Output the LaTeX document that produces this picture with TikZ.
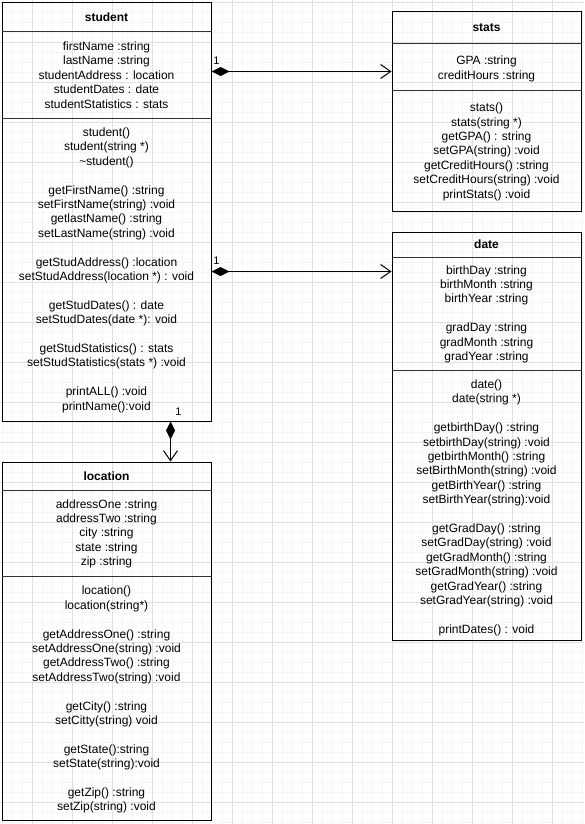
\documentclass[tikz,border=0pt]{standalone}
\usepackage{fontspec}
\setmainfont{Liberation Sans}
\usetikzlibrary{arrows.meta}
\tikzset{
  minorgrid/.style={draw=black!4, line width=0.6pt},
  majorgrid/.style={draw=black!12, line width=0.8pt},
  cls/.style={draw=black, line width=1pt, rectangle, inner sep=0pt},
  sep/.style={draw=black!80, line width=0.8pt},
  ttl/.style={font=\fontsize{12}{14.4}\selectfont\bfseries, inner sep=0pt},
  body/.style={font=\fontsize{12}{14.4}\selectfont, align=center, inner sep=0pt},
  mult/.style={font=\fontsize{11}{13}\selectfont, inner sep=0pt},
  comp/.style={draw=black, line width=1pt, {Diamond[length=18pt,width=9pt]}-{Straight Barb[length=10pt,width=14pt]}}
}
\begin{document}
\begin{tikzpicture}[x=1pt,y=-1pt]
\fill[white] (0,0) rectangle (584,824);
\useasboundingbox (0,0) rectangle (584,824);
% grid
\foreach \x in {2,12,...,582} \draw[minorgrid] (\x,0) -- (\x,824);
\foreach \y in {2,12,...,822} \draw[minorgrid] (0,\y) -- (584,\y);
\foreach \x in {32,72,...,552} \draw[majorgrid] (\x,0) -- (\x,824);
\foreach \y in {2,42,...,802} \draw[majorgrid] (0,\y) -- (584,\y);

% ---------- student ----------
\node[cls, minimum width=209pt, minimum height=418pt] (student) at (106.5,212) {};
\draw[sep] (2,31) -- (211,31);
\draw[sep] (2,118) -- (211,118);
\node[ttl] (studentT) at (106.5,17) {student};
\node[body] (studentA) at (106.5,76.5) {\strut firstName :string\\lastName :string\\studentAddress : location\\studentDates : date\\studentStatistics : stats\strut};
\node[body] (studentM) at (106.5,270.5) {\strut student()\\student(string *)\\\textasciitilde student()\\[14.4pt]getFirstName() :string\\setFirstName(string) :void\\getlastName() :string\\setLastName(string) :void\\[14.4pt]getStudAddress() :location\\setStudAddress(location *) : void\\[14.4pt]getStudDates() : date\\setStudDates(date *): void\\[14.4pt]getStudStatistics() : stats\\setStudStatistics(stats *) :void\\[14.4pt]printALL() :void\\printName():void\strut};

% ---------- stats ----------
\node[cls, minimum width=189pt, minimum height=199pt] (stats) at (486.5,111.5) {};
\draw[sep] (392,43) -- (581,43);
\draw[sep] (392,90) -- (581,90);
\node[ttl] (statsT) at (486.5,27.5) {stats};
\node[body] (statsA) at (486.5,69) {\strut GPA :string\\creditHours :string\strut};
\node[body] (statsM) at (486.5,152) {\strut stats()\\stats(string *)\\getGPA() : string\\setGPA(string) :void\\getCreditHours() :string\\setCreditHours(string) :void\\printStats() :void\strut};

% ---------- date ----------
\node[cls, minimum width=189pt, minimum height=408pt] (date) at (486.5,436) {};
\draw[sep] (392,257) -- (581,257);
\draw[sep] (392,370) -- (581,370);
\node[ttl] (dateT) at (486.5,244.5) {date};
\node[body] (dateA) at (486.5,314.5) {\strut birthDay :string\\birthMonth :string\\birthYear :string\\[14.4pt]gradDay :string\\gradMonth :string\\gradYear :string\strut};
\node[body] (dateM) at (486.5,508) {\strut date()\\date(string *)\\[14.4pt]getbirthDay() :string\\setbirthDay(string) :void\\getbirthMonth() :string\\setBirthMonth(string) :void\\getBirthYear() :string\\setBirthYear(string):void\\[14.4pt]getGradDay() :string\\setGradDay(string) :void\\getGradMonth() :string\\setGradMonth(string) :void\\getGradYear() :string\\setGradYear(string) :void\\[14.4pt]printDates() : void\strut};

% ---------- location ----------
\node[cls, minimum width=209pt, minimum height=358pt] (location) at (106.5,641) {};
\draw[sep] (2,490) -- (211,490);
\draw[sep] (2,576) -- (211,576);
\node[ttl] (locationT) at (106.5,476) {location};
\node[body] (locationA) at (106.5,534) {\strut addressOne :string\\addressTwo :string\\city :string\\state :string\\zip :string\strut};
\node[body] (locationM) at (106.5,700) {\strut location()\\location(string*)\\[14.4pt]getAddressOne() :string\\setAddressOne(string) :void\\getAddressTwo() :string\\setAddressTwo(string) :void\\[14.4pt]getCity() :string\\setCitty(string) void\\[14.4pt]getState():string\\setState(string):void\\[14.4pt]getZip() :string\\setZip(string) :void\strut};

% ---------- connectors ----------
\draw[comp] ([yshift=-69pt]student.north east) -- ([yshift=-60pt]stats.north west);
\draw[comp] ([yshift=-269pt]student.north east) -- ([yshift=-40pt]date.north west);
\draw[comp] ([xshift=169pt]student.south west) -- ([xshift=169pt]location.north west);
\node[mult] (m1) at (216.5,61) {1};
\node[mult] (m2) at (216.5,261) {1};
\node[mult] (m3) at (178.5,412) {1};
\end{tikzpicture}
\end{document}
